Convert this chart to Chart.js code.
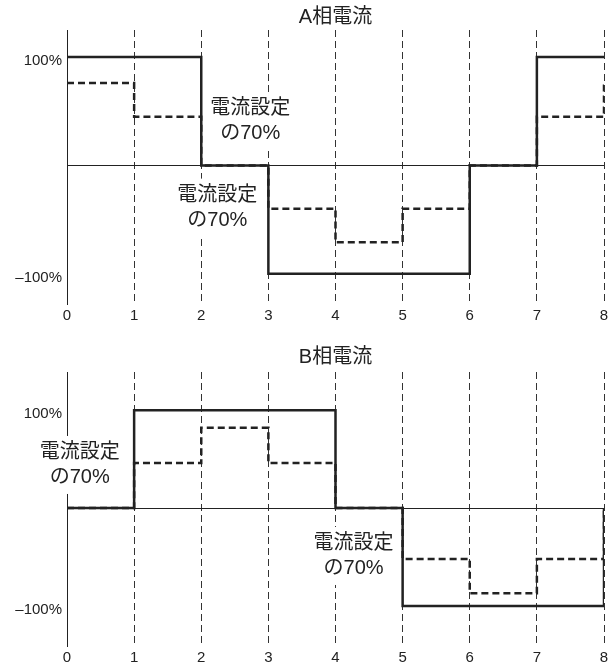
<!DOCTYPE html>
<html lang="ja">
<head>
<meta charset="utf-8">
<title>A相電流 / B相電流</title>
<script src="https://cdn.jsdelivr.net/npm/chart.js@4.4.1/dist/chart.umd.min.js"></script>
<style>
  html, body { margin: 0; padding: 0; background: #fff; }
  canvas { display: block; }
</style>
</head>
<body>
<canvas id="chartA" width="615" height="335"></canvas>
<canvas id="chartB" width="615" height="336"></canvas>
<script>
// step positions, each value holds until the next step
const steps = [0, 1, 2, 3, 4, 5, 6, 7, 8];

// A相: full current (solid) and 70% setting (dashed)
const phaseAFull = [1, 1, 0, -1, -1, -1, 0, 1, 1];
const phaseA70 = [0.76, 0.45, 0, -0.40, -0.71, -0.40, 0, 0.45, 0.76];

// B相
const phaseBFull = [0, 1, 1, 1, 0, -1, -1, -1, 0];
const phaseB70 = [0, 0.46, 0.82, 0.46, 0, -0.52, -0.87, -0.52, 0];

const yTickValues = [-1, 0, 1];
const yTickLabels = ['–100%', '', '100%'];

const noteLines = ['電流設定', 'の70%'];

const fontFamily = '"Liberation Sans", "Noto Sans CJK JP", sans-serif';
const ink = '#222';

Chart.defaults.font.family = fontFamily;
Chart.defaults.color = ink;

// "電流設定の70%" labels with a white box behind them
const notesPlugin = {
  id: 'notes',
  afterDraw(chart, args, opts) {
    const ctx = chart.ctx;
    const xs = chart.scales.x, ys = chart.scales.y;
    const lh = 25;
    ctx.save();
    ctx.font = '20px ' + fontFamily;
    ctx.textAlign = 'center';
    ctx.textBaseline = 'middle';
    (opts.items || []).forEach(item => {
      const cx = xs.getPixelForValue(item.x);
      const cy = ys.getPixelForValue(item.y);
      const w = Math.max(...noteLines.map(t => ctx.measureText(t).width)) + 4;
      ctx.fillStyle = '#fff';
      ctx.fillRect(cx - w / 2, cy - lh - 4, w, lh * 2 + 8);
      ctx.fillStyle = ink;
      noteLines.forEach((t, i) => ctx.fillText(t, cx, cy + (i - 0.5) * lh));
    });
    ctx.restore();
  }
};

function toPoints(values) {
  return steps.map((x, i) => ({ x: x, y: values[i] }));
}

function makeChart(id, title, full, seventy, cfg) {
  const ctx = document.getElementById(id).getContext('2d');
  return new Chart(ctx, {
    type: 'line',
    data: {
      datasets: [{
        label: title,
        data: toPoints(full),
        borderColor: ink,
        borderWidth: 2.5,
        stepped: 'before',
        pointRadius: 0,
        fill: false
      }, {
        label: title + ' 70%',
        data: toPoints(seventy),
        borderColor: ink,
        borderWidth: 2.5,
        borderDash: [7, 4],
        stepped: 'before',
        pointRadius: 0,
        fill: false
      }]
    },
    options: {
      responsive: false,
      animation: false,
      layout: { padding: { left: 0, right: 11, top: 0, bottom: 0 } },
      plugins: {
        legend: { display: false },
        tooltip: { enabled: false },
        title: {
          display: true,
          text: title,
          fullSize: false,
          color: ink,
          font: { size: 20, weight: 'normal', lineHeight: 1.2 },
          padding: cfg.titlePad
        },
        notes: { items: cfg.notes }
      },
      scales: {
        x: {
          type: 'linear',
          min: 0,
          max: 8,
          ticks: { stepSize: 1, padding: 3, maxRotation: 0, font: { size: 15 } },
          grid: {
            drawTicks: false,
            lineWidth: 1,
            color: c => (c.tick && c.tick.value === 0) ? 'rgba(0,0,0,0)' : '#333'
          },
          border: { display: false, dash: [7, 4] },
          afterFit: s => { s.height = cfg.xHeight; }
        },
        y: {
          min: cfg.yMin,
          max: cfg.yMax,
          afterBuildTicks: s => { s.ticks = yTickValues.map(v => ({ value: v })); },
          ticks: {
            callback: v => yTickLabels[yTickValues.indexOf(v)],
            padding: 5,
            labelOffset: 4,
            font: { size: 15 }
          },
          grid: {
            drawTicks: false,
            lineWidth: 1,
            color: c => (c.tick && c.tick.value === 0) ? ink : 'rgba(0,0,0,0)'
          },
          border: { display: true, color: ink, width: 1 },
          afterFit: s => { s.width = 67; }
        }
      }
    },
    plugins: [notesPlugin]
  });
}

makeChart('chartA', 'A相電流', phaseAFull, phaseA70, {
  yMin: -1.28, yMax: 1.25, xHeight: 31,
  titlePad: { top: 5, bottom: 1 },
  notes: [{ x: 2.73, y: 0.41 }, { x: 2.24, y: -0.39 }]
});

makeChart('chartB', 'B相電流', phaseBFull, phaseB70, {
  yMin: -1.41, yMax: 1.39, xHeight: 25,
  titlePad: { top: 10, bottom: 3 },
  notes: [{ x: 0.19, y: 0.44 }, { x: 4.27, y: -0.49 }]
});
</script>
</body>
</html>
